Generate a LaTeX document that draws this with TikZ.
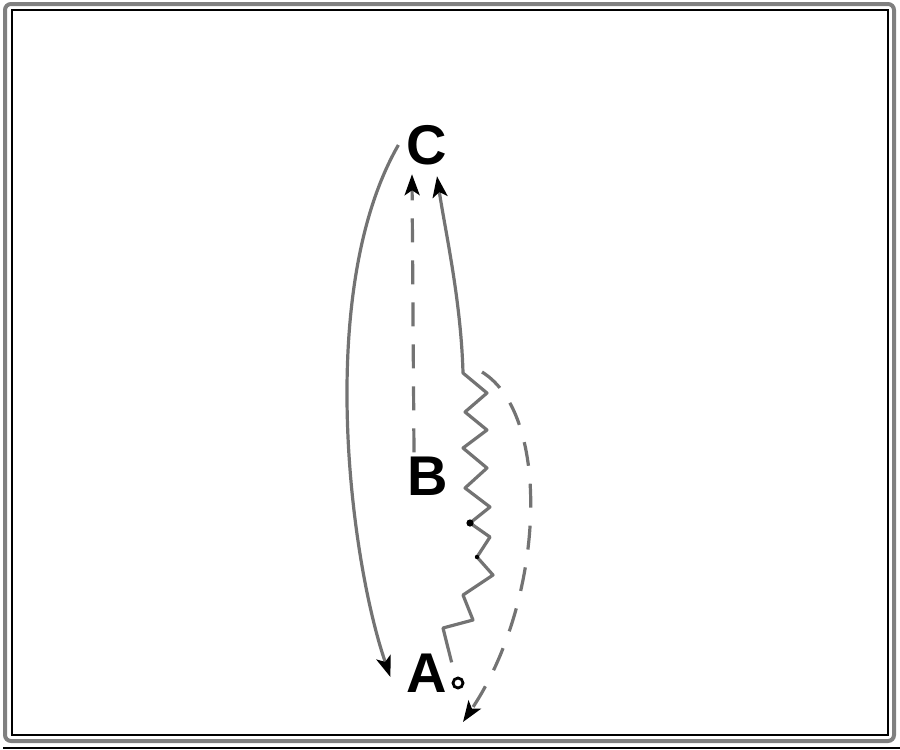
\documentclass[tikz,border=0pt]{standalone}
\usepackage{fontspec}
\setmainfont{Liberation Sans}
\usetikzlibrary{arrows.meta,calc}
\begin{document}
\begin{tikzpicture}[x=0.5pt,y=-0.5pt,
  lbl/.style={font=\fontsize{28}{30}\selectfont\bfseries, inner sep=2pt},
  edge/.style={draw=black!55, line width=1.6pt, line join=round,
    -{Stealth[length=10.5pt,width=7.5pt,inset=2.5pt,color=black]}},
  dashedge/.style={edge, dash pattern=on 12pt off 9pt},
  frameinner/.style={draw=black, line width=0.6pt},
  frameouter/.style={draw=black!50, line width=2pt, rounded corners=3pt}]
\useasboundingbox (0,0) rectangle (900,750);
% frame
\draw[frameouter] (5,4) rectangle (894,741);
\draw[frameinner] (12,10) rectangle (888,735);
\draw[line width=0.6pt] (3,748) -- (900,748);
% nodes
\node[lbl] (C) at (427,145) {C};
\node[lbl] (B) at (428,476) {B};
\node[lbl] (A) at (427,673) {A};
\node[circle, draw, line width=1.4pt, minimum size=5pt, inner sep=0pt] (o) at (458,683) {};
% connectors
\draw[edge] ([xshift=-2pt]C.west) .. controls (315,290) and (350,560) .. ([shift={(-6pt,-2pt)}]A.west);
\draw[dashedge] ([xshift=-7pt]B.north) -- ([shift={(-7.5pt,-2.5pt)}]C.south);
\draw[edge] ([yshift=-6.5pt]A.north east) -- (443,628) -- (473,620) -- (463,595) -- (493,575)
  -- (477,557) -- (490,537) -- (470,523) -- (490,507) -- (465,488) -- (487,468) -- (463,448)
  -- (487,430) -- (465,412) -- (487,393) -- (463,373)
  .. controls (461,300) and (445,230) .. ([shift={(5pt,-3.5pt)}]C.south);
\fill (470,523) circle (1.8pt);
\fill (477,557) circle (1.1pt);
\coordinate (d0) at (482,372);
\coordinate (d1) at (463,722);
\draw[dashedge] (d0) .. controls (552,415) and (545,600) .. (d1);
\end{tikzpicture}
\end{document}
